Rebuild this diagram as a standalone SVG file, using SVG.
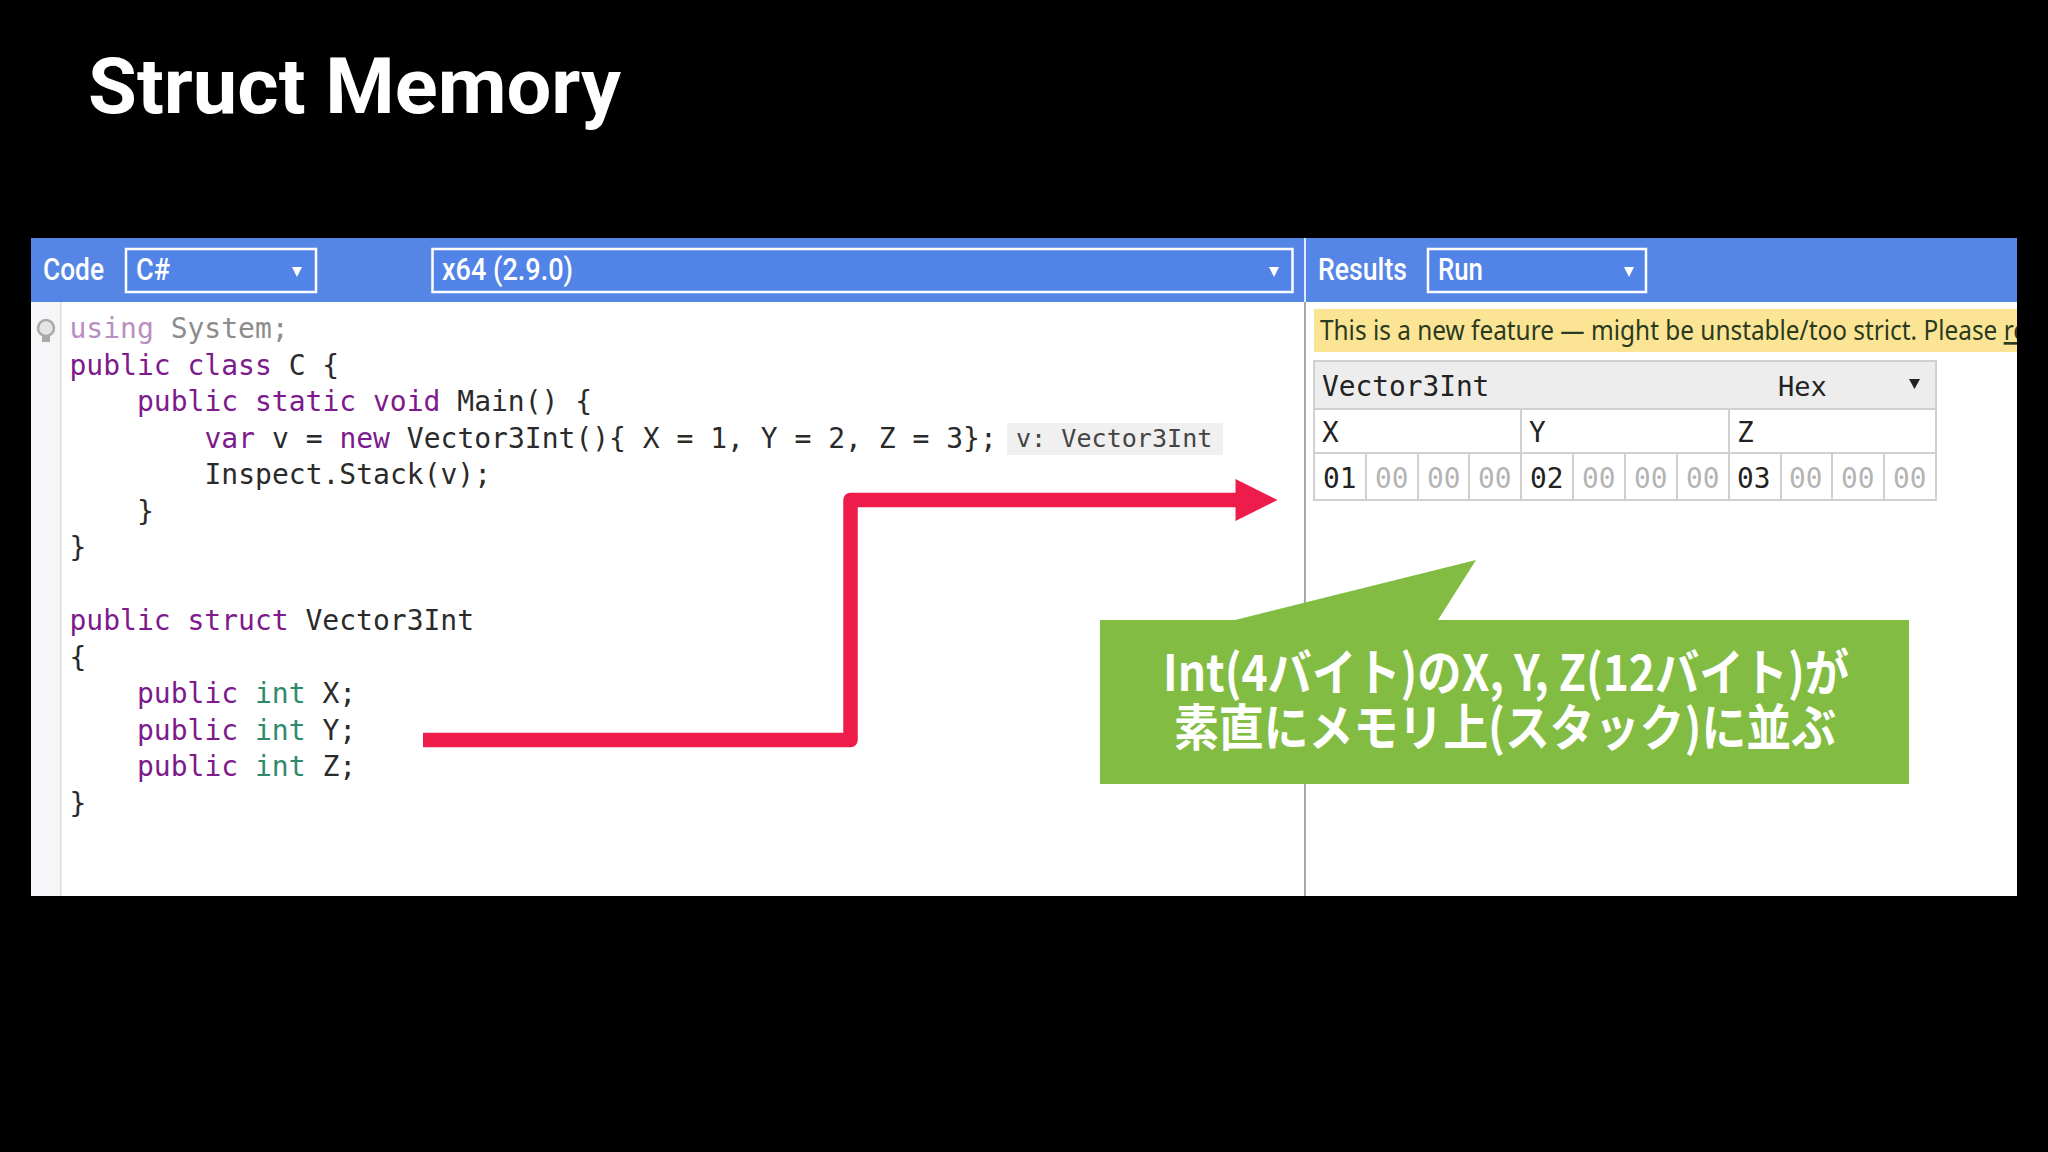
<svg xmlns="http://www.w3.org/2000/svg" width="2048" height="1152" viewBox="0 0 2048 1152">
<style>
text{white-space:pre}
.c{font:28px "DejaVu Sans Mono","Liberation Mono",monospace;fill:#2a2a2a}
.k{fill:#7d1a8c}.t{fill:#2f8a6c}
.h{font:500 32px Roboto,"Liberation Sans",sans-serif;fill:#fff}
.sel{fill:#5284e8;stroke:#fff;stroke-width:2.5}
.tri{fill:#fff}
.m{font:27.8px "DejaVu Sans Mono",monospace;fill:#222}
.z{fill:#b4b4b4}
.cell{fill:#fff;stroke:#d0d0d0;stroke-width:2}
.cj{font:700 50px "Noto Sans CJK JP",sans-serif;fill:#fff}
</style>
<defs><clipPath id="pc"><rect x="31" y="238" width="1986" height="658"/></clipPath></defs>
<rect width="2048" height="1152" fill="#000"/>
<text id="title" x="88" y="113" font-family="Roboto,sans-serif" font-weight="700" font-size="77" fill="#fff" textLength="533" lengthAdjust="spacingAndGlyphs">Struct Memory</text>
<g id="panel">
<rect x="31" y="238" width="1986" height="658" fill="#fff"/>
<rect x="31" y="238" width="1986" height="64" fill="#5586e5"/>
<rect x="31" y="302" width="29" height="594" fill="#f6f6f8"/>
<rect x="60" y="302" width="1.5" height="594" fill="#dcdcdc"/>
<rect x="1304" y="238" width="2" height="64" fill="#dfe8fb"/>
<rect x="1304" y="302" width="2" height="594" fill="#a8a8ac"/>
</g>
<g id="toolbar">
<text class="h" x="43" y="280" textLength="61" lengthAdjust="spacingAndGlyphs">Code</text>
<rect class="sel" x="126" y="249" width="190" height="43"/>
<text class="h" x="136" y="280" textLength="34" lengthAdjust="spacingAndGlyphs">C#</text>
<path class="tri" d="M292 267h10l-5 10z"/>
<rect class="sel" x="432.500" y="249" width="860" height="43"/>
<text class="h" x="442" y="280" textLength="131" lengthAdjust="spacingAndGlyphs">x64 (2.9.0)</text>
<path class="tri" d="M1269 267h10l-5 10z"/>
<text class="h" x="1318" y="280" textLength="89" lengthAdjust="spacingAndGlyphs">Results</text>
<rect class="sel" x="1428" y="249" width="218" height="43"/>
<text class="h" x="1438" y="280" textLength="45" lengthAdjust="spacingAndGlyphs">Run</text>
<path class="tri" d="M1624 267h10l-5 10z"/>
</g>
<g id="bulb" fill="#a9a9a9">
<circle cx="46" cy="328" r="8" fill="#e4e4e4" stroke="#a9a9a9" stroke-width="2.500"/>
<rect x="42" y="335" width="8" height="7"/>
</g>
<g id="code">
<text class="c" x="69.500" y="338"><tspan fill="#b88fc0">using</tspan><tspan fill="#8c8c8c"> System;</tspan></text>
<text class="c" x="69.500" y="374.500"><tspan class="k">public class</tspan> C {</text>
<text class="c" x="137" y="411"><tspan class="k">public static void</tspan> Main() {</text>
<text class="c" x="204.500" y="447.500"><tspan class="k">var</tspan> v = <tspan class="k">new</tspan> Vector3Int(){ X = 1, Y = 2, Z = 3};</text>
<text class="c" x="204.500" y="484">Inspect.Stack(v);</text>
<text class="c" x="137" y="520.500">}</text>
<text class="c" x="69.500" y="557">}</text>
<text class="c" x="69.500" y="630"><tspan class="k">public struct</tspan> Vector3Int</text>
<text class="c" x="69.500" y="666.500">{</text>
<text class="c" x="137" y="703"><tspan class="k">public</tspan> <tspan class="t">int</tspan> X;</text>
<text class="c" x="137" y="739.500"><tspan class="k">public</tspan> <tspan class="t">int</tspan> Y;</text>
<text class="c" x="137" y="776"><tspan class="k">public</tspan> <tspan class="t">int</tspan> Z;</text>
<text class="c" x="69.500" y="812.500">}</text>
</g>
<g id="hint">
<rect x="1007" y="423" width="216" height="32" fill="#f0f0f0"/>
<text x="1016" y="447" font-family="DejaVu Sans Mono,monospace" font-size="25.100" fill="#444">v: Vector3Int</text>
</g>
<g id="banner" clip-path="url(#pc)">
<rect x="1314" y="309" width="703" height="43" fill="#fbe595"/>
<text x="1320" y="340" font-family="Noto Sans,sans-serif" font-size="27" fill="#2a3a20" textLength="707" lengthAdjust="spacingAndGlyphs">This is a new feature — might be unstable/too strict. Please <tspan text-decoration="underline">re</tspan></text>
</g>
<g id="table">
<rect x="1314" y="361" width="622" height="48" fill="#ededed" stroke="#d0d0d0" stroke-width="2"/>
<text class="m" x="1322" y="396">Vector3Int</text>
<text class="m" x="1778" y="396" style="font-size:27px">Hex</text>
<path d="M1909 379h11l-5.500 10z" fill="#222"/>
<rect class="cell" x="1314" y="409" width="207" height="44"/>
<rect class="cell" x="1521" y="409" width="208" height="44"/>
<rect class="cell" x="1729" y="409" width="207" height="44"/>
<text class="m" x="1322" y="442">X</text><text class="m" x="1529" y="442">Y</text><text class="m" x="1737" y="442">Z</text>
<g>
<rect class="cell" x="1314" y="453" width="52" height="47"/><rect class="cell" x="1366" y="453" width="52" height="47"/><rect class="cell" x="1418" y="453" width="51" height="47"/><rect class="cell" x="1469" y="453" width="52" height="47"/>
<rect class="cell" x="1521" y="453" width="52" height="47"/><rect class="cell" x="1573" y="453" width="52" height="47"/><rect class="cell" x="1625" y="453" width="52" height="47"/><rect class="cell" x="1677" y="453" width="52" height="47"/>
<rect class="cell" x="1729" y="453" width="52" height="47"/><rect class="cell" x="1781" y="453" width="51" height="47"/><rect class="cell" x="1832" y="453" width="52" height="47"/><rect class="cell" x="1884" y="453" width="52" height="47"/>
</g>
<text class="m" x="1323" y="488">01</text><text class="m z" x="1375" y="488">00</text><text class="m z" x="1427" y="488">00</text><text class="m z" x="1478" y="488">00</text>
<text class="m" x="1530" y="488">02</text><text class="m z" x="1582" y="488">00</text><text class="m z" x="1634" y="488">00</text><text class="m z" x="1686" y="488">00</text>
<text class="m" x="1737" y="488">03</text><text class="m z" x="1789" y="488">00</text><text class="m z" x="1841" y="488">00</text><text class="m z" x="1893" y="488">00</text>
</g>
<g id="connectors">
<path d="M423 740H850.500V500H1240" fill="none" stroke="#ed1c4b" stroke-width="14.500" stroke-linejoin="round"/>
<path d="M1235.500 479L1277.500 500L1235.500 521Z" fill="#ed1c4b"/>
</g>
<g id="callout">
<path d="M1100 620H1235L1476 560L1438 620H1909V784H1100Z" fill="#82bc42"/>
<text class="cj" x="1163" y="691" textLength="686" lengthAdjust="spacingAndGlyphs">Int(4バイト)のX, Y, Z(12バイト)が</text>
<text class="cj" x="1174" y="746" textLength="662" lengthAdjust="spacingAndGlyphs">素直にメモリ上(スタック)に並ぶ</text>
</g>
</svg>
